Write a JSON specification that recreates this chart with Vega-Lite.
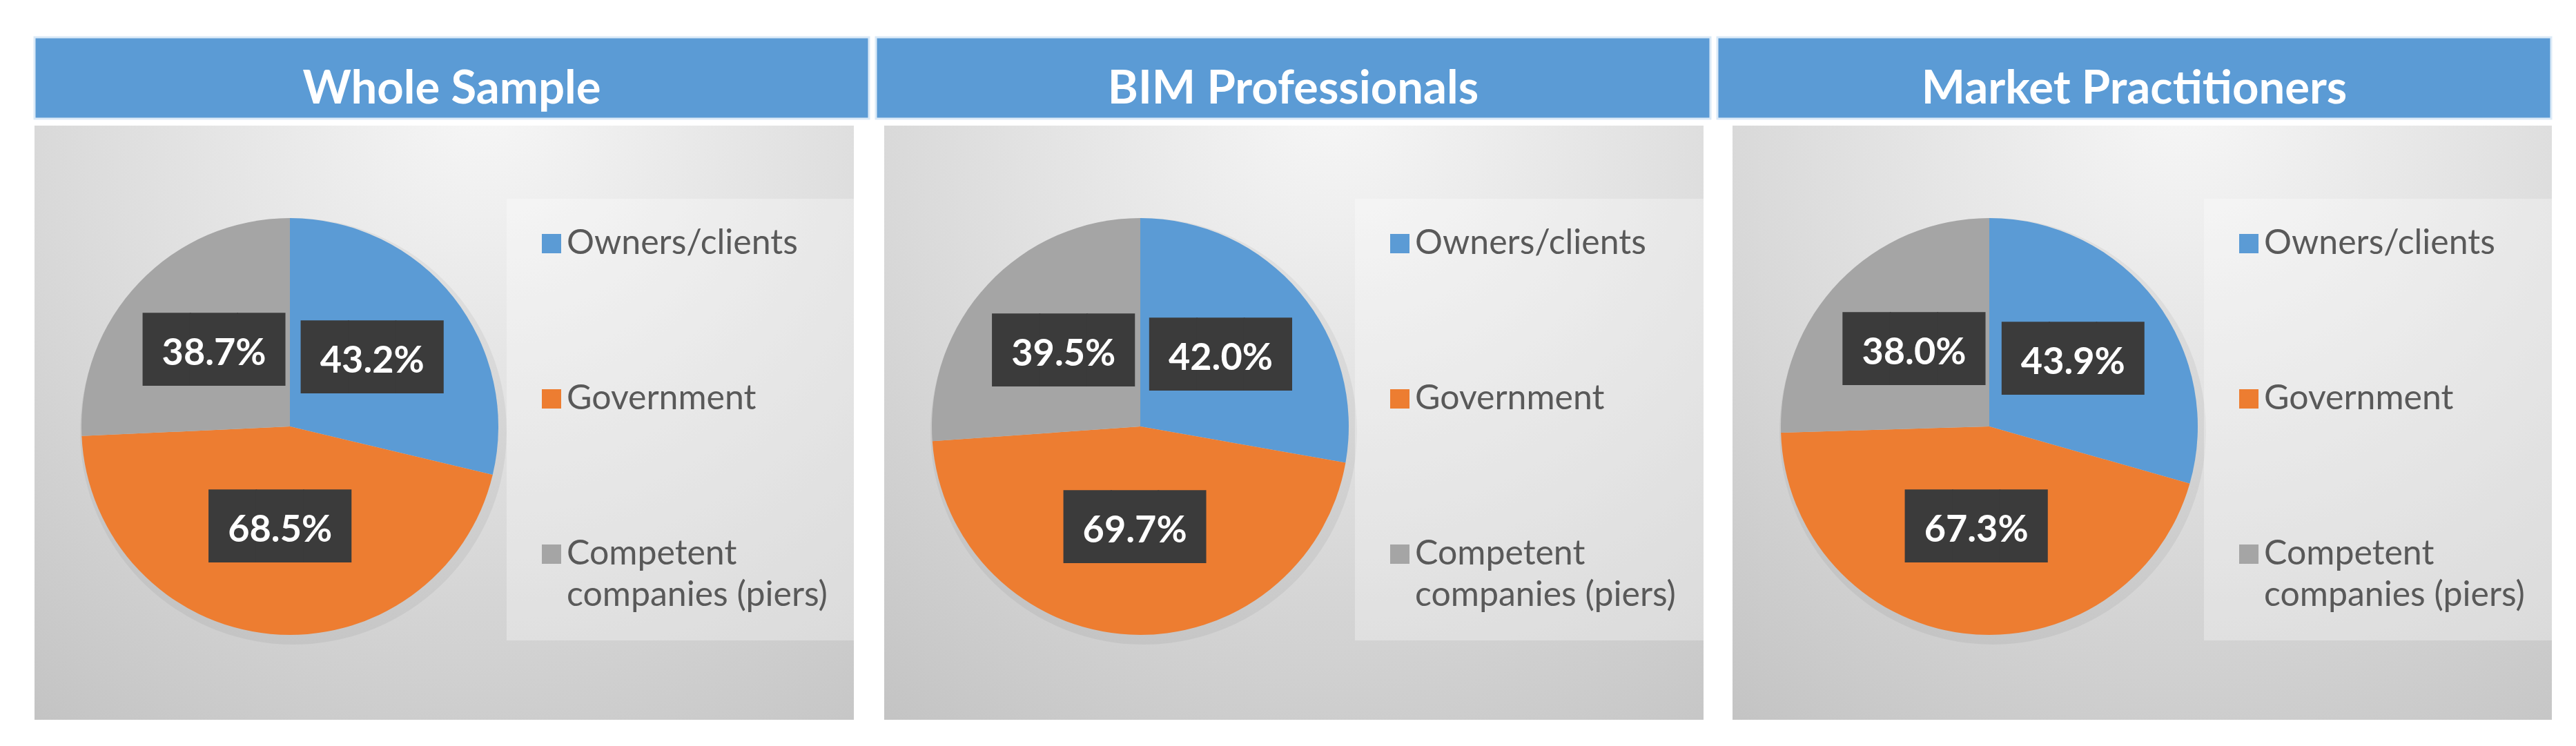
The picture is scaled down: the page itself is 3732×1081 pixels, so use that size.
{
  "$schema": "https://vega.github.io/schema/vega-lite/v6.json",
  "padding": {"left": 48, "top": 52, "right": 0, "bottom": 0},
  "background": "white",
  "config": {
    "view": {"stroke": null},
    "font": "Lato",
    "style": {"guide-label": {"lineHeight": 60}}
  },
  "datasets": {
    "d": [
      {"group": "Whole Sample", "category": "Owners/clients", "k": 1, "value": 0.432},
      {"group": "Whole Sample", "category": "Government", "k": 2, "value": 0.685},
      {"group": "Whole Sample", "category": "Competent companies (piers)", "k": 3, "value": 0.387},
      {"group": "BIM Professionals", "category": "Owners/clients", "k": 1, "value": 0.420},
      {"group": "BIM Professionals", "category": "Government", "k": 2, "value": 0.697},
      {"group": "BIM Professionals", "category": "Competent companies (piers)", "k": 3, "value": 0.395},
      {"group": "Market Practitioners", "category": "Owners/clients", "k": 1, "value": 0.439},
      {"group": "Market Practitioners", "category": "Government", "k": 2, "value": 0.673},
      {"group": "Market Practitioners", "category": "Competent companies (piers)", "k": 3, "value": 0.380}
    ]
  },
  "spacing": 8,
  "vconcat": [
    {
      "spacing": 6,
      "hconcat": [
        {
          "width": 1209, "height": 118,
          "view": {"fill": "#5b9bd5", "stroke": "#dbeaf7", "strokeWidth": 3},
          "data": {"name": "d"},
          "transform": [{"filter": "datum.group == 'Whole Sample' && datum.k == 1"}],
          "mark": {"type": "text", "fontSize": 67, "fontWeight": "bold", "color": "white", "dy": 17},
          "encoding": {"text": {"field": "group"}}
        },
        {
          "width": 1209, "height": 118,
          "view": {"fill": "#5b9bd5", "stroke": "#dbeaf7", "strokeWidth": 3},
          "data": {"name": "d"},
          "transform": [{"filter": "datum.group == 'BIM Professionals' && datum.k == 1"}],
          "mark": {"type": "text", "fontSize": 67, "fontWeight": "bold", "color": "white", "dy": 17},
          "encoding": {"text": {"field": "group"}}
        },
        {
          "width": 1208, "height": 118,
          "view": {"fill": "#5b9bd5", "stroke": "#dbeaf7", "strokeWidth": 3},
          "data": {"name": "d"},
          "transform": [{"filter": "datum.group == 'Market Practitioners' && datum.k == 1"}],
          "mark": {"type": "text", "fontSize": 67, "fontWeight": "bold", "color": "white", "dy": 17},
          "encoding": {"text": {"field": "group"}}
        }
      ]
    },
    {
      "spacing": 42,
      "resolve": {"scale": {"theta": "independent", "color": "independent"}, "legend": {"color": "independent"}},
      "hconcat": [
        {
          "width": 1187, "height": 861,
          "view": {"fill": {"gradient": "radial", "x1": 0.55, "y1": 0.1, "r1": 0, "x2": 0.55, "y2": 0.1, "r2": 0.95, "stops": [{"offset": 0, "color": "#f7f7f7"}, {"offset": 1, "color": "#c3c3c3"}]}},
          "data": {"name": "d"},
          "transform": [{"filter": "datum.group == 'Whole Sample'"}],
          "encoding": {
            "theta": {"field": "value", "type": "quantitative", "stack": "normalize"},
            "order": {"field": "k", "type": "quantitative"}
          },
          "layer": [
            {"mark": {"type": "arc", "outerRadius": 309, "x": 375, "y": 443, "color": "#000000", "opacity": 0.05}},
            {
              "mark": {"type": "arc", "outerRadius": 302, "x": 370, "y": 436},
              "encoding": {
                "color": {
                  "field": "category", "type": "nominal",
                  "scale": {"domain": ["Owners/clients", "Government", "Competent companies (piers)"], "range": ["#5b9bd5", "#ed7d31", "#a5a5a5"]},
                  "legend": {"orient": "none", "legendX": 684, "legendY": 106, "title": null, "symbolType": "square", "symbolSize": 784, "symbolStrokeWidth": 0, "labelFontSize": 50, "labelColor": "#595959", "labelFont": "Lato", "labelLimit": 700, "labelOffset": -3, "rowPadding": 175, "padding": 40, "fillColor": "rgba(255,255,255,0.3)", "labelExpr": "datum.label == 'Competent companies (piers)' ? ['Competent', 'companies (piers)'] : datum.label"}
                }
              }
            },
            {"mark": {"type": "text", "radius": 152, "x": 370, "y": 436, "text": "███", "font": "DejaVu Sans", "fontSize": 89, "color": "#3b3b3b", "dy": -3}},
            {
              "mark": {"type": "text", "radius": 152, "x": 370, "y": 436, "fontSize": 54, "fontWeight": "bold", "color": "white"},
              "encoding": {"text": {"field": "value", "type": "quantitative", "format": ".1%"}}
            }
          ]
        },
        {
          "width": 1187, "height": 861,
          "view": {"fill": {"gradient": "radial", "x1": 0.55, "y1": 0.1, "r1": 0, "x2": 0.55, "y2": 0.1, "r2": 0.95, "stops": [{"offset": 0, "color": "#f7f7f7"}, {"offset": 1, "color": "#c3c3c3"}]}},
          "data": {"name": "d"},
          "transform": [{"filter": "datum.group == 'BIM Professionals'"}],
          "encoding": {
            "theta": {"field": "value", "type": "quantitative", "stack": "normalize"},
            "order": {"field": "k", "type": "quantitative"}
          },
          "layer": [
            {"mark": {"type": "arc", "outerRadius": 309, "x": 376, "y": 443, "color": "#000000", "opacity": 0.05}},
            {
              "mark": {"type": "arc", "outerRadius": 302, "x": 371, "y": 436},
              "encoding": {
                "color": {
                  "field": "category", "type": "nominal",
                  "scale": {"domain": ["Owners/clients", "Government", "Competent companies (piers)"], "range": ["#5b9bd5", "#ed7d31", "#a5a5a5"]},
                  "legend": {"orient": "none", "legendX": 682, "legendY": 106, "title": null, "symbolType": "square", "symbolSize": 784, "symbolStrokeWidth": 0, "labelFontSize": 50, "labelColor": "#595959", "labelFont": "Lato", "labelLimit": 700, "labelOffset": -3, "rowPadding": 175, "padding": 40, "fillColor": "rgba(255,255,255,0.3)", "labelExpr": "datum.label == 'Competent companies (piers)' ? ['Competent', 'companies (piers)'] : datum.label"}
                }
              }
            },
            {"mark": {"type": "text", "radius": 152, "x": 371, "y": 436, "text": "███", "font": "DejaVu Sans", "fontSize": 89, "color": "#3b3b3b", "dy": -3}},
            {
              "mark": {"type": "text", "radius": 152, "x": 371, "y": 436, "fontSize": 54, "fontWeight": "bold", "color": "white"},
              "encoding": {"text": {"field": "value", "type": "quantitative", "format": ".1%"}}
            }
          ]
        },
        {
          "width": 1187, "height": 861,
          "view": {"fill": {"gradient": "radial", "x1": 0.55, "y1": 0.1, "r1": 0, "x2": 0.55, "y2": 0.1, "r2": 0.95, "stops": [{"offset": 0, "color": "#f7f7f7"}, {"offset": 1, "color": "#c3c3c3"}]}},
          "data": {"name": "d"},
          "transform": [{"filter": "datum.group == 'Market Practitioners'"}],
          "encoding": {
            "theta": {"field": "value", "type": "quantitative", "stack": "normalize"},
            "order": {"field": "k", "type": "quantitative"}
          },
          "layer": [
            {"mark": {"type": "arc", "outerRadius": 309, "x": 377, "y": 443, "color": "#000000", "opacity": 0.05}},
            {
              "mark": {"type": "arc", "outerRadius": 302, "x": 372, "y": 436},
              "encoding": {
                "color": {
                  "field": "category", "type": "nominal",
                  "scale": {"domain": ["Owners/clients", "Government", "Competent companies (piers)"], "range": ["#5b9bd5", "#ed7d31", "#a5a5a5"]},
                  "legend": {"orient": "none", "legendX": 683, "legendY": 106, "title": null, "symbolType": "square", "symbolSize": 784, "symbolStrokeWidth": 0, "labelFontSize": 50, "labelColor": "#595959", "labelFont": "Lato", "labelLimit": 700, "labelOffset": -3, "rowPadding": 175, "padding": 40, "fillColor": "rgba(255,255,255,0.3)", "labelExpr": "datum.label == 'Competent companies (piers)' ? ['Competent', 'companies (piers)'] : datum.label"}
                }
              }
            },
            {"mark": {"type": "text", "radius": 152, "x": 372, "y": 436, "text": "███", "font": "DejaVu Sans", "fontSize": 89, "color": "#3b3b3b", "dy": -3}},
            {
              "mark": {"type": "text", "radius": 152, "x": 372, "y": 436, "fontSize": 54, "fontWeight": "bold", "color": "white"},
              "encoding": {"text": {"field": "value", "type": "quantitative", "format": ".1%"}}
            }
          ]
        }
      ]
    }
  ]
}
